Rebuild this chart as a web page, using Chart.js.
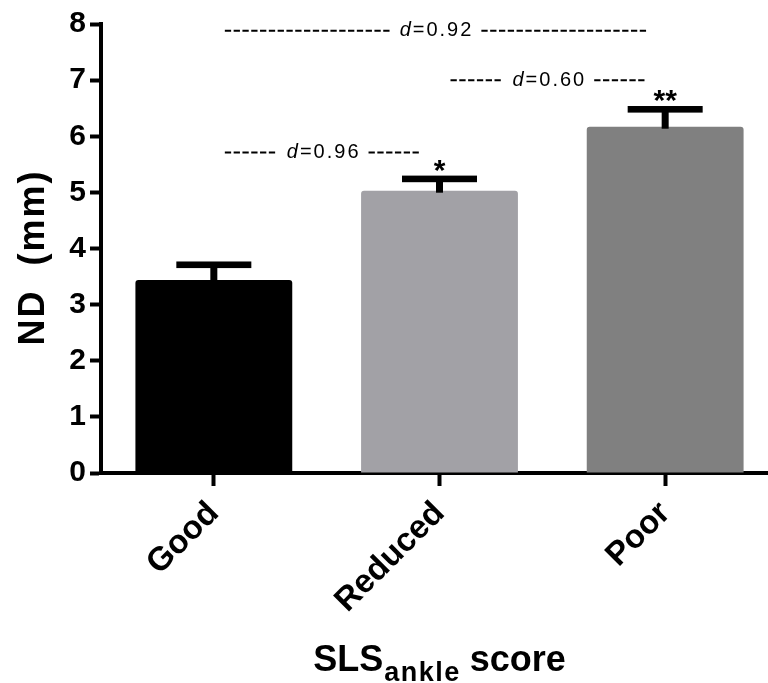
<!DOCTYPE html>
<html>
<head>
<meta charset="utf-8">
<script src="https://cdn.jsdelivr.net/npm/chart.js@4.4.1/dist/chart.umd.min.js"></script>
<style>
  body { margin: 0; background: #fff; }
  #clip { width: 768px; height: 683px; overflow: hidden; }
  #wrap { width: 778px; height: 683px; }
</style>
</head>
<body>
<div id="clip"><div id="wrap"><canvas id="ndChart"></canvas></div></div>
<script>
const categories = ['Good', 'Reduced', 'Poor'];
const meanND = [3.44, 5.03, 6.17];
const semND = [0.27, 0.21, 0.31];
const barColors = ['#000000', '#a2a1a6', '#808080'];
const sigMarks = ['', '*', '**'];

// effect size brackets: from category, to category, height (mm), label
const dFrom = [0, 0, 1];
const dTo = [2, 1, 2];
const dLevel = [7.88, 5.71, 7.0];
const dValue = ['0.92', '0.96', '0.60'];

const FONT = "'Liberation Sans', Arial, Helvetica, sans-serif";

const extrasPlugin = {
    id: 'extras',
    afterDatasetsDraw(chart) {
        const ctx = chart.ctx;
        const xs = chart.scales.x;
        const ys = chart.scales.y;
        ctx.save();

        // error bars (upper only) and significance stars
        meanND.forEach((m, i) => {
            const cx = xs.getPixelForValue(i);
            const top = ys.getPixelForValue(m);
            const cap = ys.getPixelForValue(m + semND[i]);
            ctx.fillStyle = '#000';
            ctx.fillRect(cx - 3.5, cap, 7, top - cap + 2);
            ctx.fillRect(cx - 37.5, cap - 3.3, 75, 6.6);
            if (sigMarks[i]) {
                ctx.font = 'bold 30px ' + FONT;
                ctx.textAlign = 'center';
                ctx.textBaseline = 'alphabetic';
                ctx.fillText(sigMarks[i], cx, cap + 1);
            }
        });

        // effect size dashed brackets
        const sp = 2;
        dValue.forEach((v, k) => {
            const x1 = xs.getPixelForValue(dFrom[k]) + 11;
            const x2 = xs.getPixelForValue(dTo[k]) - 19;
            const y = ys.getPixelForValue(dLevel[k]);
            const rest = '=' + v;
            ctx.letterSpacing = '0px';
            ctx.font = 'italic 20px ' + FONT;
            const wd = ctx.measureText('d').width + sp;
            ctx.font = '20px ' + FONT;
            const wr = ctx.measureText(rest).width + sp * (rest.length - 1);
            const w = wd + wr;
            const mid = (x1 + x2) / 2;
            const tx = mid - w / 2;
            ctx.strokeStyle = '#000';
            ctx.lineWidth = 2;
            ctx.setLineDash([6.3, 2.5]);
            ctx.beginPath();
            ctx.moveTo(x1, y);
            ctx.lineTo(tx - 10, y);
            ctx.moveTo(tx + w + 10, y);
            ctx.lineTo(x2, y);
            ctx.stroke();
            ctx.setLineDash([]);
            ctx.fillStyle = '#000';
            ctx.textAlign = 'left';
            ctx.textBaseline = 'middle';
            ctx.letterSpacing = sp + 'px';
            ctx.font = 'italic 20px ' + FONT;
            ctx.fillText('d', tx, y);
            ctx.font = '20px ' + FONT;
            ctx.fillText(rest, tx + wd, y);
        });
        ctx.letterSpacing = '0px';
        ctx.restore();
    },
    afterDraw(chart) {
        const ctx = chart.ctx;
        const area = chart.chartArea;
        ctx.save();
        ctx.fillStyle = '#000';

        // y axis title
        ctx.translate(44, (area.top + area.bottom) / 2 + 9);
        ctx.rotate(-Math.PI / 2);
        ctx.font = 'bold 36px ' + FONT;
        ctx.letterSpacing = '2px';
        ctx.textAlign = 'center';
        ctx.textBaseline = 'alphabetic';
        ctx.fillText('ND  (mm)', 0, 0);
        ctx.setTransform(chart.currentDevicePixelRatio, 0, 0, chart.currentDevicePixelRatio, 0, 0);

        // x axis title with subscript
        ctx.letterSpacing = '0px';
        ctx.textAlign = 'left';
        const big = 'bold 36px ' + FONT;
        const sub = 'bold 27px ' + FONT;
        ctx.font = big;
        const w1 = ctx.measureText('SLS').width;
        const w3 = ctx.measureText(' score').width;
        ctx.font = sub;
        const w2 = ctx.measureText('ankle').width + 1.5 * 5;
        const total = w1 + w2 + w3;
        let x = (area.left + area.right) / 2 - total / 2;
        const base = 671;
        ctx.font = big;
        ctx.fillText('SLS', x, base);
        x += w1;
        ctx.font = sub;
        ctx.letterSpacing = '1.5px';
        ctx.fillText('ankle', x + 1, base + 10);
        x += w2;
        ctx.letterSpacing = '0px';
        ctx.font = big;
        ctx.fillText(' score', x, base);
        ctx.restore();
    }
};

const ndCtx = document.getElementById('ndChart');

const ndChart = new Chart(ndCtx, {
    type: 'bar',
    data: {
        labels: categories,
        datasets: [{
            label: 'ND (mm)',
            data: meanND,
            backgroundColor: barColors,
            borderWidth: 0,
            borderRadius: { topLeft: 3, topRight: 3, bottomLeft: 0, bottomRight: 0 },
            borderSkipped: 'bottom',
            barPercentage: 0.695,
            categoryPercentage: 1.0
        }]
    },
    options: {
        responsive: true,
        maintainAspectRatio: false,
        animation: false,
        layout: {
            padding: { top: 24, left: 0, right: 0, bottom: 0 }
        },
        scales: {
            x: {
                offset: true,
                grid: {
                    display: true,
                    offset: false,
                    drawOnChartArea: false,
                    drawTicks: true,
                    tickLength: 13,
                    tickWidth: 4,
                    tickColor: '#000'
                },
                border: { display: true, color: '#000', width: 4 },
                ticks: {
                    color: '#000',
                    minRotation: 45,
                    maxRotation: 45,
                    padding: 8,
                    font: { family: FONT, size: 33, weight: 'bold' }
                },
                afterFit: function (scale) { scale.height = 210; }
            },
            y: {
                min: 0,
                max: 8,
                grid: {
                    display: true,
                    drawOnChartArea: false,
                    drawTicks: true,
                    tickLength: 11,
                    tickWidth: 4,
                    tickColor: '#000'
                },
                border: { display: true, color: '#000', width: 4 },
                ticks: {
                    color: '#000',
                    stepSize: 1,
                    padding: 4,
                    font: { family: FONT, size: 30, weight: 'bold' }
                },
                afterFit: function (scale) { scale.width = 101; }
            }
        },
        plugins: {
            legend: { display: false },
            tooltip: { enabled: false }
        }
    },
    plugins: [extrasPlugin]
});
</script>
</body>
</html>
